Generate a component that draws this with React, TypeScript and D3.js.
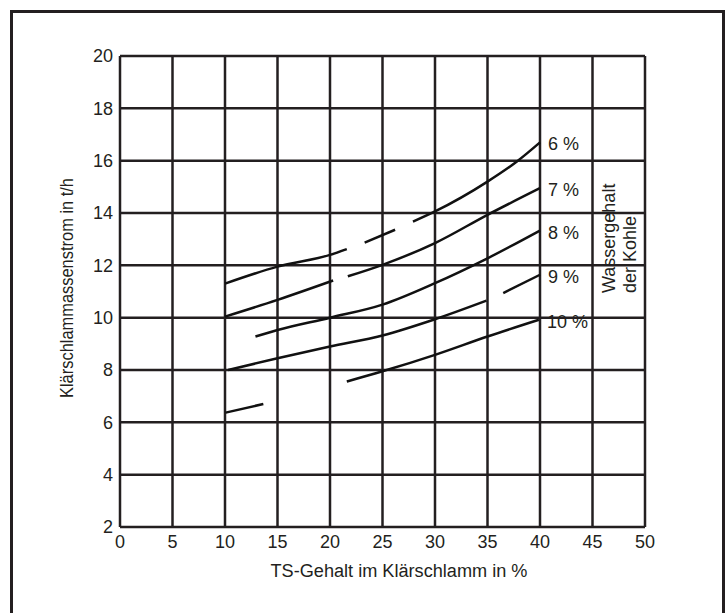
import { scaleLinear, line, curveMonotoneX, range } from 'd3'

// Wassergehalt der Kohle, one curve per value; each curve is drawn in pieces as in the scan
const curveLabels = ['6 %', '7 %', '8 %', '9 %', '10 %']

const curve6 = [
  [[10, 11.3], [15, 11.95], [20, 12.4], [21.6, 12.62]],
  [[23.3, 12.87], [26.2, 13.36]],
  [[27.9, 13.67], [30, 14.06], [35, 15.2], [37.8, 15.97], [40, 16.7]],
]
const curve7 = [
  [[10, 10.04], [15, 10.68], [20.3, 11.42]],
  [[21.7, 11.58], [25, 12.02], [30, 12.85], [35, 13.93], [40, 14.95]],
]
const curve8 = [
  [[12.9, 9.28], [15, 9.53], [20, 10.0], [25, 10.5], [30, 11.32], [35, 12.27], [40, 13.33]],
]
const curve9 = [
  [[10.3, 8.0], [15, 8.45], [20, 8.9], [25, 9.32], [30, 9.94], [34.9, 10.65]],
  [[36.5, 10.94], [40, 11.64]],
]
const curve10 = [
  [[10.06, 6.37], [13.65, 6.7]],
  [[21.6, 7.56], [25, 7.95], [30, 8.58], [35, 9.28], [39.9, 9.92]],
]
const curves = [curve6, curve7, curve8, curve9, curve10]

const xTicks = range(0, 51, 5)
const yTicks = range(2, 21, 2)

const width = 725
const height = 613
const margin = { top: 56, right: 80, bottom: 86, left: 120 }
const ink = '#231f20'
const font = '"Liberation Sans", Arial, sans-serif'

const App = () => {
  const x = scaleLinear().domain([0, 50]).range([margin.left, width - margin.right])
  const y = scaleLinear().domain([2, 20]).range([height - margin.bottom, margin.top])

  const curveLine = line<number[]>()
    .x(d => x(d[0]))
    .y(d => y(d[1]))
    .curve(curveMonotoneX)

  return (
    <svg width={width} height={height} style={{ position: 'absolute', left: 0, top: 0, background: '#fff' }}
      fontFamily={font} fontSize={18} fill={ink}>
      {/* frame */}
      <path d={`M11.5,${height} V11.5 H723.5 V${height}`} fill="none" stroke={ink} strokeWidth={3} />

      {/* grid */}
      {xTicks.map(t => (
        <line key={'gx' + t} x1={x(t)} x2={x(t)} y1={y(20)} y2={y(2)} stroke={ink} strokeWidth={2.5} />
      ))}
      {yTicks.map(t => (
        <line key={'gy' + t} x1={x(0)} x2={x(50)} y1={y(t)} y2={y(t)} stroke={ink} strokeWidth={2.5} />
      ))}

      {/* tick labels */}
      {xTicks.map(t => (
        <text key={'tx' + t} x={x(t)} y={y(2) + 21} textAnchor="middle">{t}</text>
      ))}
      {yTicks.map(t => (
        <text key={'ty' + t} x={x(0) - 7} y={y(t)} dy="0.36em" textAnchor="end">{t}</text>
      ))}

      {/* axis titles */}
      <text x={399} y={y(2) + 50} textAnchor="middle" textLength={257} lengthAdjust="spacingAndGlyphs">
        TS-Gehalt im Klärschlamm in %
      </text>
      <text transform={`translate(73,288) rotate(-90)`} textAnchor="middle" textLength={220}
        lengthAdjust="spacingAndGlyphs">
        Klärschlammassenstrom in t/h
      </text>

      {/* curves */}
      {curves.map((segs, i) => (
        <g key={'c' + i}>
          {segs.map((seg, j) => (
            <path key={j} d={curveLine(seg) || ''} fill="none" stroke="#111" strokeWidth={2.5} />
          ))}
        </g>
      ))}

      {/* curve labels */}
      {curves.map((segs, i) => {
        const last = segs[segs.length - 1]
        const end = last[last.length - 1]
        return (
          <text key={'l' + i} x={x(end[0]) + 8} y={y(end[1]) + 8}>{curveLabels[i]}</text>
        )
      })}

      <text transform={`translate(615,293) rotate(-90)`}>Wassergehalt</text>
      <text transform={`translate(636,293) rotate(-90)`}>der Kohle</text>
    </svg>
  )
}

export default App
